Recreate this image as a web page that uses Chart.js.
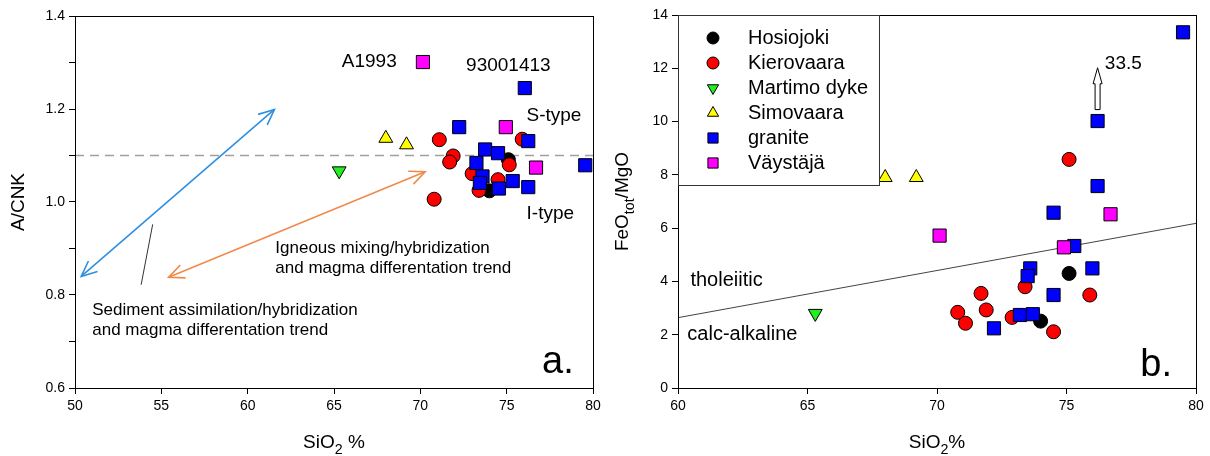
<!DOCTYPE html>
<html>
<head>
<meta charset="utf-8">
<script src="https://cdn.jsdelivr.net/npm/chart.js@4.4.1/dist/chart.umd.min.js"></script>
<style>
  body { margin: 0; background: #fff; }
  #wrap { position: relative; width: 1210px; height: 456px; }
  canvas { position: absolute; top: 0; }
</style>
</head>
<body>
<div id="wrap">
  <canvas id="chartA" width="605" height="456" style="left:0"></canvas>
  <canvas id="chartB" width="605" height="456" style="left:605px"></canvas>
</div>
<script>
// Group names (legend order)
const groups = ['Hosiojoki', 'Kierovaara', 'Martimo dyke', 'Simovaara', 'granite', 'Väystäjä'];

// Panel a: SiO2 (%) and A/CNK per group
const hosSiA = [74.0, 75.1];
const hosAcnk = [1.024, 1.091];
const kieSiA = [71.1, 71.9, 71.7, 73.0, 73.4, 70.8, 74.5, 75.15, 75.9];
const kieAcnk = [1.134, 1.099, 1.086, 1.061, 1.025, 1.006, 1.048, 1.080, 1.135];
const marSiA = [65.3];
const marAcnk = [1.067];
const simSiA = [68.0, 69.2];
const simAcnk = [1.137, 1.123];
const graSiA = [76.05, 72.25, 73.75, 74.5, 73.25, 73.6, 73.45, 74.55, 75.35, 76.25, 76.25, 79.55];
const graAcnk = [1.245, 1.161, 1.113, 1.105, 1.084, 1.055, 1.041, 1.029, 1.045, 1.032, 1.131, 1.079];
const vaySiA = [70.15, 74.95, 76.7];
const vayAcnk = [1.301, 1.161, 1.074];

// Panel b: SiO2 (%) and FeOtot/MgO per group
const hosSiB = [75.1, 74.0];
const hosFeMg = [4.30, 2.51];
const kieSiB = [75.1, 73.4, 75.9, 71.7, 70.8, 71.1, 71.9, 72.9, 74.5];
const kieFeMg = [8.58, 3.80, 3.49, 3.55, 2.84, 2.43, 2.93, 2.65, 2.11];
const marSiB = [65.3];
const marFeMg = [2.80];
const simSiB = [68.0, 69.2];
const simFeMg = [7.90, 7.90];
const graSiB = [79.5, 76.2, 76.2, 74.5, 75.3, 73.6, 73.5, 76.0, 74.5, 73.2, 73.7, 72.2];
const graFeMg = [13.35, 10.02, 7.58, 6.58, 5.33, 4.49, 4.20, 4.49, 3.49, 2.74, 2.77, 2.24];
const vaySiB = [70.1, 76.7, 74.9];
const vayFeMg = [5.72, 6.52, 5.28];

// Axis ticks
const xTicksA = [50, 55, 60, 65, 70, 75, 80];
const yTicksA = [0.6, 0.8, 1.0, 1.2, 1.4];
const xTicksB = [60, 65, 70, 75, 80];
const yTicksB = [0, 2, 4, 6, 8, 10, 12, 14];

// Reference lines
const peralSi = [50, 80];
const peralAcnk = [1.1, 1.1];
const divideSi = [60, 80];
const divideFeMg = [2.64, 6.18];

// Off-scale granite value marked with an arrow
const offScaleSi = 76.2;
const offScaleLabel = '33.5';

const FONT = '"Liberation Sans", Arial, sans-serif';

const styles = [
  { color: '#000000', pointStyle: 'circle', r: 7, lr: 6 },
  { color: '#ff0000', pointStyle: 'circle', r: 7, lr: 6 },
  { color: '#22ee22', pointStyle: 'triangle', r: 8, lr: 6.5, rot: 180 },
  { color: '#ffff00', pointStyle: 'triangle', r: 8, lr: 6.5 },
  { color: '#0000ff', pointStyle: 'rect', r: 9.3, lr: 7.2 },
  { color: '#ff00ff', pointStyle: 'rect', r: 9.3, lr: 7.2 }
];

function pts(xs, ys) {
  return xs.map((x, i) => ({ x: x, y: ys[i] }));
}

function scatterSets(pairs) {
  return pairs.map((p, i) => ({
    type: 'scatter',
    label: groups[i],
    data: pts(p[0], p[1]),
    backgroundColor: styles[i].color,
    borderColor: '#000',
    borderWidth: 1,
    pointStyle: styles[i].pointStyle,
    pointRadius: styles[i].r,
    pointHoverRadius: styles[i].r,
    rotation: styles[i].rot || 0,
    order: 10 - i
  }));
}

function axis(min, max, tickVals, fmt, isX, size) {
  return {
    type: 'linear',
    min: min,
    max: max,
    afterBuildTicks: s => { s.ticks = tickVals.map(v => ({ value: v })); },
    afterFit: s => { if (isX) s.height = size; else s.width = size; },
    ticks: {
      color: '#000',
      font: { family: FONT, size: 14 },
      padding: 4,
      callback: fmt
    },
    grid: { display: true, drawOnChartArea: false, drawTicks: true, tickLength: 6, color: '#000', tickWidth: 1 },
    border: { display: true, color: '#000', width: 1 }
  };
}

function text(ctx, str, x, y, size, align) {
  ctx.save();
  ctx.font = size + 'px ' + FONT;
  ctx.fillStyle = '#000';
  ctx.textAlign = align || 'left';
  ctx.textBaseline = 'middle';
  ctx.fillText(str, x, y);
  ctx.restore();
}

// label with a subscript part, e.g. SiO2
function subText(ctx, parts, x, y, size) {
  ctx.save();
  ctx.fillStyle = '#000';
  ctx.textBaseline = 'alphabetic';
  let total = 0;
  parts.forEach(p => {
    ctx.font = (p.sub ? size * 0.75 : size) + 'px ' + FONT;
    total += ctx.measureText(p.t).width;
  });
  let cx = x - total / 2;
  parts.forEach(p => {
    ctx.font = (p.sub ? size * 0.75 : size) + 'px ' + FONT;
    ctx.fillText(p.t, cx, y + (p.sub ? size * 0.3 : 0));
    cx += ctx.measureText(p.t).width;
  });
  ctx.restore();
}

function openHead(ctx, x1, y1, x2, y2, len) {
  const a = Math.atan2(y2 - y1, x2 - x1);
  const w = 0.42;
  ctx.beginPath();
  ctx.moveTo(x2 - len * Math.cos(a - w), y2 - len * Math.sin(a - w));
  ctx.lineTo(x2, y2);
  ctx.lineTo(x2 - len * Math.cos(a + w), y2 - len * Math.sin(a + w));
  ctx.stroke();
}

function doubleArrow(ctx, x1, y1, x2, y2, color) {
  ctx.save();
  ctx.strokeStyle = color;
  ctx.lineWidth = 1.6;
  ctx.beginPath();
  ctx.moveTo(x1, y1);
  ctx.lineTo(x2, y2);
  ctx.stroke();
  openHead(ctx, x1, y1, x2, y2, 17);
  openHead(ctx, x2, y2, x1, y1, 17);
  ctx.restore();
}

function frame(chart) {
  const a = chart.chartArea;
  const ctx = chart.ctx;
  ctx.save();
  ctx.strokeStyle = '#000';
  ctx.lineWidth = 1;
  ctx.strokeRect(Math.round(a.left) + 0.5, Math.round(a.top) + 0.5, Math.round(a.right - a.left), Math.round(a.bottom - a.top));
  ctx.restore();
}

// annotations for panel a
const notesA = {
  id: 'notesA',
  afterDatasetsDraw(chart) {
    const ctx = chart.ctx, x = chart.scales.x, y = chart.scales.y;
    const px = v => x.getPixelForValue(v), py = v => y.getPixelForValue(v);
    frame(chart);
    doubleArrow(ctx, px(50.36), py(0.840), px(61.55), py(1.199), '#2f8fe0');
    doubleArrow(ctx, px(55.42), py(0.838), px(70.28), py(1.065), '#f08a4b');
    ctx.save();
    ctx.strokeStyle = '#333';
    ctx.lineWidth = 1;
    ctx.beginPath();
    ctx.moveTo(px(54.5), py(0.952));
    ctx.lineTo(px(53.83), py(0.822));
    ctx.stroke();
    ctx.restore();
    text(ctx, 'A1993', px(65.45), py(1.301), 19);
    text(ctx, '93001413', px(72.65), py(1.293), 19);
    text(ctx, 'S-type', px(76.15), py(1.185), 19);
    text(ctx, 'I-type', px(76.15), py(0.975), 19);
    text(ctx, 'Igneous mixing/hybridization', px(61.6), py(0.900), 17);
    text(ctx, 'and magma differentation trend', px(61.6), py(0.858), 17);
    text(ctx, 'Sediment assimilation/hybridization', px(51.0), py(0.766), 17);
    text(ctx, 'and magma differentation trend', px(51.0), py(0.724), 17);
    text(ctx, 'a.', px(77.05), py(0.655), 38);
    // axis titles
    const a = chart.chartArea;
    subText(ctx, [{ t: 'SiO' }, { t: '2', sub: true }, { t: ' %' }], (a.left + a.right) / 2, 448, 19);
    ctx.save();
    ctx.translate(24, (a.top + a.bottom) / 2);
    ctx.rotate(-Math.PI / 2);
    subText(ctx, [{ t: 'A/CNK' }], 0, 0, 19);
    ctx.restore();
  }
};

// annotations and legend for panel b
const notesB = {
  id: 'notesB',
  afterDatasetsDraw(chart) {
    const ctx = chart.ctx, x = chart.scales.x, y = chart.scales.y;
    const px = v => x.getPixelForValue(v), py = v => y.getPixelForValue(v);
    frame(chart);
    text(ctx, 'tholeiitic', px(60.48), py(4.05), 20);
    text(ctx, 'calc-alkaline', px(60.36), py(1.99), 20);
    text(ctx, 'b.', px(77.85), py(0.85), 38);

    // open block arrow for the off-scale value
    const ax = px(offScaleSi), y0 = py(10.45), y1 = py(12.02);
    ctx.save();
    ctx.fillStyle = '#fff';
    ctx.strokeStyle = '#000';
    ctx.lineWidth = 1;
    ctx.beginPath();
    ctx.moveTo(ax - 2.5, y0);
    ctx.lineTo(ax - 2.5, y1 + 16);
    ctx.lineTo(ax - 4.5, y1 + 16);
    ctx.lineTo(ax, y1);
    ctx.lineTo(ax + 4.5, y1 + 16);
    ctx.lineTo(ax + 2.5, y1 + 16);
    ctx.lineTo(ax + 2.5, y0);
    ctx.closePath();
    ctx.fill();
    ctx.stroke();
    ctx.restore();
    text(ctx, offScaleLabel, px(76.48), py(12.16), 19);

    // legend box
    const a = chart.chartArea;
    const lx = a.left, ly = a.top, lw = 201, lh = 170;
    ctx.save();
    ctx.fillStyle = '#fff';
    ctx.fillRect(lx, ly, lw, lh);
    ctx.strokeStyle = '#333';
    ctx.strokeRect(Math.round(lx) + 0.5, Math.round(ly) + 0.5, lw, lh);
    ctx.restore();
    chart.data.datasets.forEach((ds, i) => {
      if (!ds.label || i >= groups.length) return;
      const cy = ly + 23 + i * 25;
      ctx.save();
      ctx.fillStyle = ds.backgroundColor;
      ctx.strokeStyle = '#000';
      ctx.lineWidth = 1;
      Chart.helpers.drawPoint(ctx, { pointStyle: ds.pointStyle, rotation: ds.rotation, radius: styles[i].lr, borderWidth: 1 }, lx + 35, cy);
      ctx.restore();
      text(ctx, ds.label, lx + 70, cy, 20);
    });

    subText(ctx, [{ t: 'SiO' }, { t: '2', sub: true }, { t: '%' }], (a.left + a.right) / 2, 448, 19);
    ctx.save();
    ctx.translate(23, (a.top + a.bottom) / 2);
    ctx.rotate(-Math.PI / 2);
    subText(ctx, [{ t: 'FeO' }, { t: 'tot', sub: true }, { t: '/MgO' }], 0, 0, 19);
    ctx.restore();
  }
};

function lineSet(xs, ys, color, dash, width) {
  return {
    type: 'line',
    data: pts(xs, ys),
    borderColor: color,
    borderWidth: width,
    borderDash: dash,
    pointRadius: 0,
    fill: false,
    order: 20
  };
}

const common = {
  responsive: false,
  animation: false,
  events: [],
  plugins: { legend: { display: false }, tooltip: { enabled: false } }
};

new Chart(document.getElementById('chartA'), {
  type: 'scatter',
  data: {
    datasets: scatterSets([
      [hosSiA, hosAcnk], [kieSiA, kieAcnk], [marSiA, marAcnk],
      [simSiA, simAcnk], [graSiA, graAcnk], [vaySiA, vayAcnk]
    ]).concat([lineSet(peralSi, peralAcnk, '#a0a0a0', [9, 6], 1.3)])
  },
  options: Object.assign({}, common, {
    layout: { padding: { left: 0, top: 16, right: 12, bottom: 0 } },
    scales: {
      x: axis(50, 80, xTicksA, v => v, true, 68),
      y: axis(0.6, 1.4, [0.6, 0.7, 0.8, 0.9, 1.0, 1.1, 1.2, 1.3, 1.4],
        v => yTicksA.some(t => Math.abs(t - v) < 1e-6) ? v.toFixed(1) : '', false, 75)
    }
  }),
  plugins: [notesA]
});

new Chart(document.getElementById('chartB'), {
  type: 'scatter',
  data: {
    datasets: scatterSets([
      [hosSiB, hosFeMg], [kieSiB, kieFeMg], [marSiB, marFeMg],
      [simSiB, simFeMg], [graSiB, graFeMg], [vaySiB, vayFeMg]
    ]).concat([lineSet(divideSi, divideFeMg, '#444', [], 1)])
  },
  options: Object.assign({}, common, {
    layout: { padding: { left: 0, top: 15, right: 14, bottom: 0 } },
    scales: {
      x: axis(60, 80, xTicksB, v => v, true, 68),
      y: axis(0, 14, yTicksB, v => v, false, 73)
    }
  }),
  plugins: [notesB]
});
</script>
</body>
</html>
